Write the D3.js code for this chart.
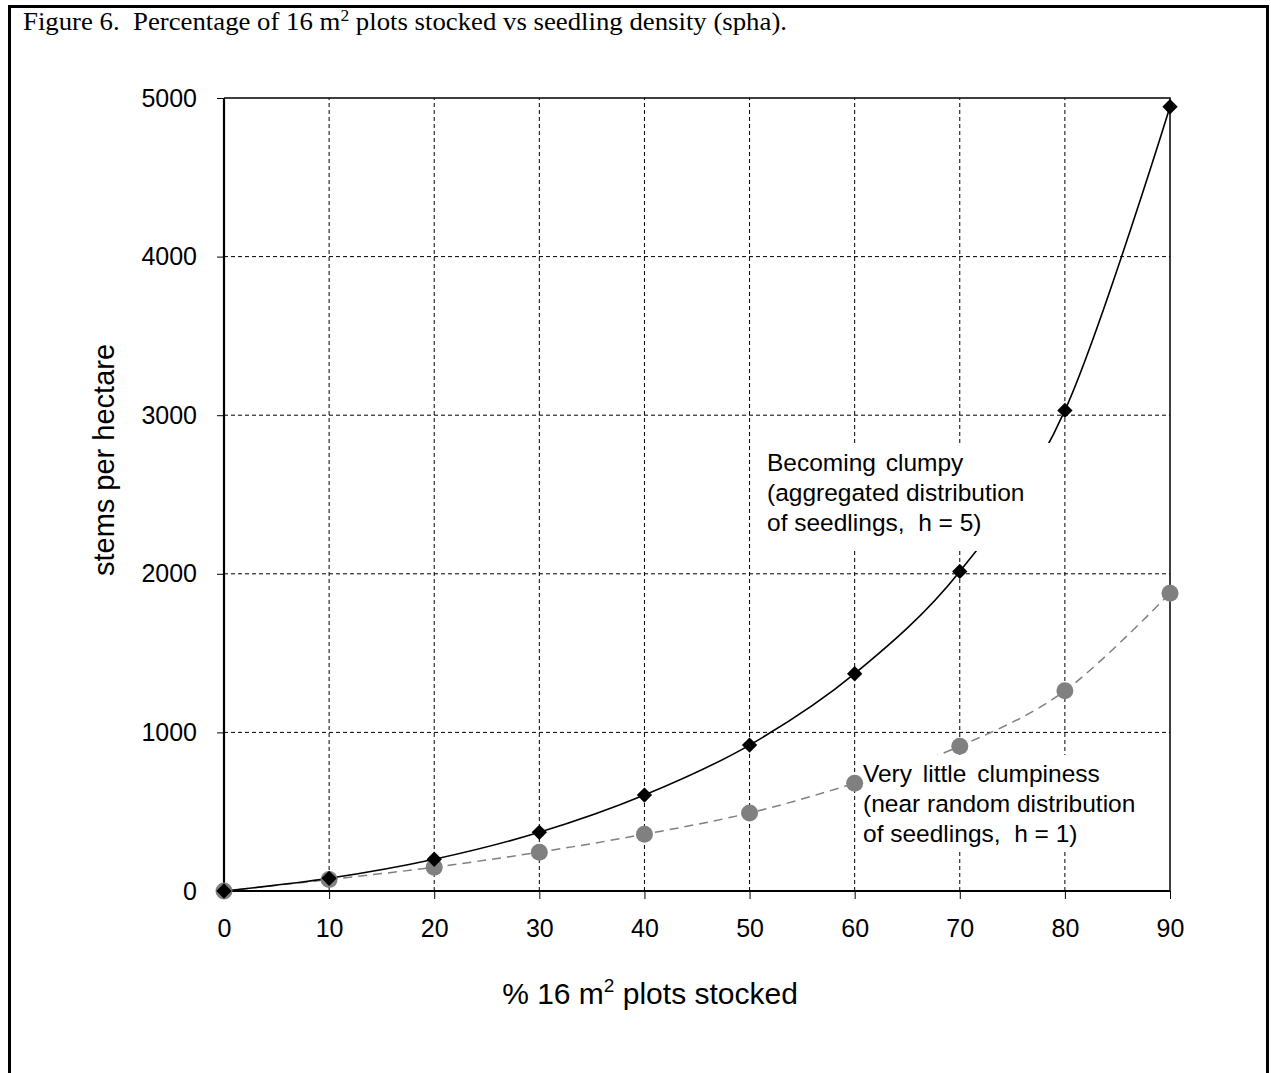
<!DOCTYPE html>
<html><head><meta charset="utf-8">
<script src="https://cdn.jsdelivr.net/npm/d3@7"></script>
<style>body{margin:0;background:#fff}svg{display:block}text{white-space:pre}</style>
</head><body>
<script>
const xValues = [0,10,20,30,40,50,60,70,80,90];
const clumpy = [0,80,200,370,605,920,1370,2015,3030,4945];
const random = [0,72,150,245,358,492,680,913,1262,1878];
const xTicks = [0,10,20,30,40,50,60,70,80,90];
const yTicks = [0,1000,2000,3000,4000,5000];
const title = "Figure 6.  Percentage of 16 m";
const titleSup = "2";
const titleRest = " plots stocked vs seedling density (spha).";
const yTitle = "stems per hectare";
const noteClumpy = ["Becoming clumpy","(aggregated distribution","of seedlings,  h = 5)"];
const noteRandom = ["Very little clumpiness","(near random distribution","of seedlings,  h = 1)"];

const W=1271,H=1073;
const svg=d3.select("body").append("svg").attr("width",W).attr("height",H);
const sans="Liberation Sans, Arial, sans-serif";
const serif="Liberation Serif, Times New Roman, serif";

// outer border (no bottom)
svg.append("path").attr("d",`M9.5,${H} V6.5 H1267.5 V${H}`).attr("fill","none").attr("stroke","#000").attr("stroke-width",3);

const tt=svg.append("text").attr("x",23).attr("y",30).attr("font-family",serif).attr("font-size",24.5).attr("fill","#000")
 .attr("textLength",764).attr("lengthAdjust","spacingAndGlyphs");
tt.append("tspan").text(title);
tt.append("tspan").attr("dy",-9).attr("font-size",16).text(titleSup);
tt.append("tspan").attr("dy",9).text(titleRest);

const x=d3.scaleLinear().domain([0,90]).range([224,1170]);
const y=d3.scaleLinear().domain([0,5000]).range([891,98]);

// gridlines
const g=svg.append("g");
g.selectAll(".hg").data(yTicks.filter(v=>v>0&&v<5000)).join("line")
 .attr("x1",x(0)).attr("x2",x(90)).attr("y1",d=>y(d)).attr("y2",d=>y(d))
 .attr("stroke","#000").attr("stroke-width",1).attr("stroke-dasharray","4,3");
g.selectAll(".vg").data(xTicks.filter(v=>v>0&&v<90)).join("line")
 .attr("x1",d=>x(d)).attr("x2",d=>x(d)).attr("y1",y(0)).attr("y2",y(5000))
 .attr("stroke","#000").attr("stroke-width",1).attr("stroke-dasharray","4,3");
// plot top and right border
svg.append("path").attr("d",`M${x(0)},${y(5000)} H${x(90)} V${y(0)}`).attr("fill","none").attr("stroke","#000").attr("stroke-width",1.5);

// axes
const yAxis=d3.axisLeft(y).tickValues(yTicks).tickSize(7).tickPadding(20).tickFormat(d3.format("d"));
const ya=svg.append("g").attr("transform",`translate(${x(0)},0)`).call(yAxis);
const xAxis=d3.axisBottom(x).tickValues(xTicks).tickSize(8).tickPadding(20).tickFormat(d3.format("d"));
const xa=svg.append("g").attr("transform",`translate(0,${y(0)})`).call(xAxis);
[ya,xa].forEach(a=>{
  a.select(".domain").attr("stroke","#000").attr("stroke-width",2.2);
  a.selectAll(".tick line").attr("stroke","#000").attr("stroke-width",1);
  a.selectAll(".tick text").attr("font-family",sans).attr("font-size",25).attr("fill","#000");
});
ya.select(".domain").attr("d",`M0,${y(5000)}V${y(0)}`);
xa.select(".domain").attr("d",`M${x(0)},0H${x(90)}`);

// axis titles
svg.append("text").attr("transform",`translate(114,460) rotate(-90)`).attr("text-anchor","middle")
 .attr("font-family",sans).attr("font-size",29).text(yTitle);
const xt=svg.append("text").attr("x",650).attr("y",1004).attr("text-anchor","middle").attr("font-family",sans).attr("font-size",30);
xt.append("tspan").text("% 16 m");
xt.append("tspan").attr("dy",-12).attr("font-size",19).text("2");
xt.append("tspan").attr("dy",12).text(" plots stocked");

// lines
const line=d3.line().x((d,i)=>x(xValues[i])).y(d=>y(d)).curve(d3.curveCardinal.tension(0));
svg.append("path").datum(random).attr("d",line).attr("fill","none").attr("stroke","#808080").attr("stroke-width",1.5).attr("stroke-dasharray","9,6");
svg.append("path").datum(clumpy).attr("d",line).attr("fill","none").attr("stroke","#000").attr("stroke-width",1.6);

// annotation boxes
function note(lines,bx,by,bw,bh,tx,ty,ws){
  svg.append("rect").attr("x",bx).attr("y",by).attr("width",bw).attr("height",bh).attr("fill","#fff");
  const t=svg.append("text").attr("font-family",sans).attr("font-size",24.5).attr("fill","#000");
  lines.forEach((l,i)=>{
    const s=t.append("tspan").attr("x",tx).attr("y",ty+i*30).text(l);
    if(i===0&&ws) s.attr("word-spacing",ws);
  });
}
note(noteClumpy,752,443,300,108,767,471,3);
note(noteRandom,858,755,290,95,863,782,4);

// markers
svg.selectAll(".rc").data(random).join("circle").attr("cx",(d,i)=>x(xValues[i])).attr("cy",d=>y(d)).attr("r",8.5).attr("fill","#808080");
const diamond=d3.symbol().type(d3.symbolDiamond2).size(150);
svg.selectAll(".cd").data(clumpy).join("path").attr("d",diamond)
 .attr("transform",(d,i)=>`translate(${x(xValues[i])},${y(d)})`).attr("fill","#000");
</script>
</body></html>
